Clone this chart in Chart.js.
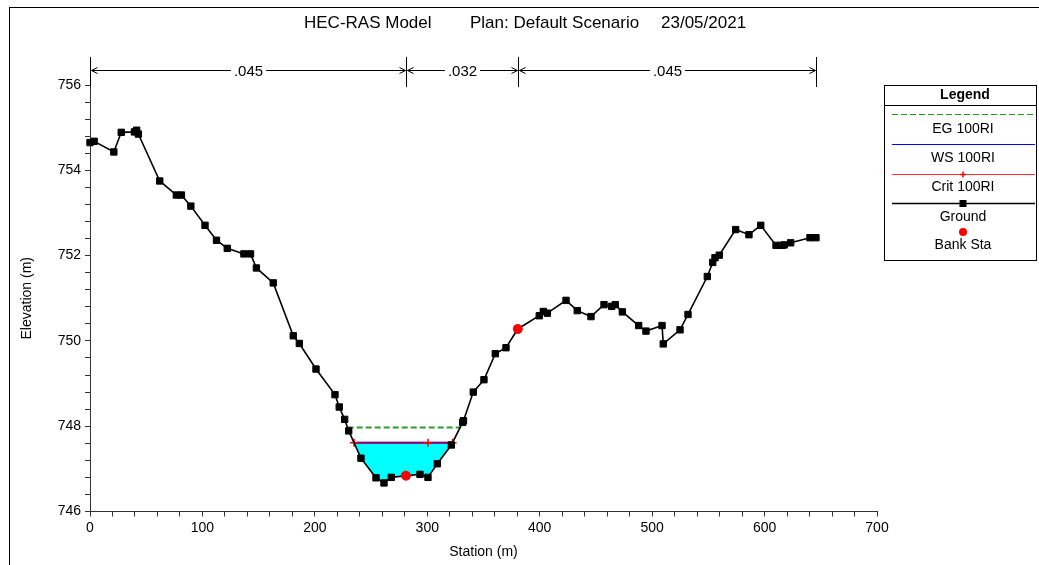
<!DOCTYPE html>
<html>
<head>
<meta charset="utf-8">
<title>HEC-RAS Model</title>
<script src="https://cdn.jsdelivr.net/npm/chart.js@4.4.1/dist/chart.umd.min.js"></script>
<style>
    html, body { margin: 0; padding: 0; background: #fff; }
    canvas { display: block; }
</style>
</head>
<body>
<canvas id="xsChart" width="1039" height="565"></canvas>
<script>
// cross section data (station m, elevation m)
const groundStation = [0, 3.7, 21.2, 27.8, 39.5, 41.5, 43.0, 62.0, 76.8, 81.3, 89.7, 102.3, 112.5, 122.1, 136.9, 142.8,
    148.0, 163.0, 180.8, 186.2, 201.0, 217.9, 221.7, 226.5, 230.1, 241.0, 254.4, 261.5, 268.0, 281.0, 293.5, 300.6,
    308.9, 321.4, 331.5, 332.2, 340.9, 350.4, 360.5, 370.0, 380.5, 399.6, 403.2, 406.8, 423.4, 433.4, 445.6, 457.2,
    464.0, 467.2, 473.5, 488.0, 494.5, 508.8, 509.9, 524.8, 531.9, 549.1, 553.9, 555.9, 559.7, 574.3, 586.1, 596.6,
    610.2, 615.3, 617.5, 623.2, 640.4, 645.7];
const groundElev = [754.65, 754.68, 754.43, 754.89, 754.90, 754.94, 754.85, 753.75, 753.42, 753.42, 753.16, 752.71, 752.36, 752.17, 752.04, 752.04,
    751.71, 751.36, 750.12, 749.94, 749.34, 748.74, 748.45, 748.16, 747.89, 747.25, 746.79, 746.67, 746.80, 746.84, 746.87, 746.80,
    747.12, 747.56, 748.09, 748.13, 748.80, 749.09, 749.70, 749.84, 750.28, 750.59, 750.69, 750.65, 750.95, 750.71, 750.57, 750.85,
    750.81, 750.85, 750.68, 750.36, 750.23, 750.36, 749.93, 750.26, 750.62, 751.51, 751.84, 751.95, 752.01, 752.61, 752.49, 752.71,
    752.24, 752.24, 752.25, 752.30, 752.42, 752.42];

const bankStation = [281.0, 380.5];
const bankElev = [746.84, 750.28];

const wsElev = 747.61;
const wsStation = [234.9, 322.5];
const egElev = 747.97;
const egStation = [229.2, 329.3];
const critElev = 747.61;
const critStation = [234.9, 300.6, 322.5];

const nStation = [0, 281.0, 380.5, 645.7];
const nValue = ['.045', '.032', '.045'];

const xTickLabels = [0, 100, 200, 300, 400, 500, 600, 700];
const yTickLabels = [746, 748, 750, 752, 754, 756];

const titleParts = ['HEC-RAS Model', 'Plan: Default Scenario', '23/05/2021'];
const seriesNames = ['EG 100RI', 'WS 100RI', 'Crit 100RI', 'Ground', 'Bank Sta'];

const FONT = "'Liberation Sans', Arial, sans-serif";

const pts = (xs, ys) => xs.map((x, i) => ({ x, y: Array.isArray(ys) ? ys[i] : ys }));

// frame + title
const framePlugin = {
    id: 'frame',
    afterDraw(chart) {
        const ctx = chart.ctx;
        ctx.save();
        ctx.strokeStyle = '#000';
        ctx.lineWidth = 1;
        ctx.strokeRect(9.5, 7.5, 1100, 600);
        ctx.fillStyle = '#000';
        ctx.font = '17px ' + FONT;
        ctx.textBaseline = 'middle';
        ctx.textAlign = 'left';
        const xs = [304, 470, 661];
        titleParts.forEach((t, i) => ctx.fillText(t, xs[i], 23));
        ctx.restore();
    }
};

// manning's n bar across the top
const manningPlugin = {
    id: 'manning',
    afterDraw(chart) {
        const ctx = chart.ctx;
        const xs = nStation.map(s => Math.round(chart.scales.x.getPixelForValue(s)) + 0.5);
        const y = 70.5;
        ctx.save();
        ctx.strokeStyle = '#000';
        ctx.fillStyle = '#000';
        ctx.lineWidth = 1;
        ctx.font = '15px ' + FONT;
        ctx.textAlign = 'center';
        ctx.textBaseline = 'middle';
        xs.forEach(x => {
            ctx.beginPath();
            ctx.moveTo(x, 57);
            ctx.lineTo(x, 87);
            ctx.stroke();
        });
        for (let i = 0; i < nValue.length; i++) {
            const a = xs[i] + 1, b = xs[i + 1] - 1;
            ctx.beginPath();
            ctx.moveTo(a, y);
            ctx.lineTo(b, y);
            ctx.moveTo(a + 6, y - 3);
            ctx.lineTo(a, y);
            ctx.lineTo(a + 6, y + 3);
            ctx.moveTo(b - 6, y - 3);
            ctx.lineTo(b, y);
            ctx.lineTo(b - 6, y + 3);
            ctx.stroke();
            const mid = (a + b) / 2;
            const w = ctx.measureText(nValue[i]).width;
            ctx.fillStyle = '#fff';
            ctx.fillRect(mid - w / 2 - 3, y - 8, w + 6, 16);
            ctx.fillStyle = '#000';
            ctx.fillText(nValue[i], mid, y + 1);
        }
        ctx.restore();
    }
};

// boxed legend on the right
const legendPlugin = {
    id: 'legendBox',
    afterDraw(chart) {
        const ctx = chart.ctx;
        const left = 884.5, right = 1036.5, top = 85.5, bottom = 260.5;
        const cx = 963, x1 = 892, x2 = 1035;
        const lineY = [114.5, 144.5, 174.5, 203.5, 232];
        const textY = [129, 158, 187, 217, 245];
        ctx.save();
        ctx.fillStyle = '#fff';
        ctx.fillRect(left, top, right - left, bottom - top);
        ctx.strokeStyle = '#000';
        ctx.lineWidth = 1;
        ctx.strokeRect(left, top, right - left, bottom - top);
        ctx.beginPath();
        ctx.moveTo(left, 105.5);
        ctx.lineTo(right, 105.5);
        ctx.stroke();

        ctx.fillStyle = '#000';
        ctx.textAlign = 'center';
        ctx.textBaseline = 'middle';
        ctx.font = 'bold 14px ' + FONT;
        ctx.fillText('Legend', cx + 2, 95.5);

        // EG
        ctx.strokeStyle = '#1f9a1f';
        ctx.setLineDash([6, 3]);
        ctx.beginPath(); ctx.moveTo(x1, lineY[0]); ctx.lineTo(x2, lineY[0]); ctx.stroke();
        ctx.setLineDash([]);
        // WS
        ctx.strokeStyle = '#0000ff';
        ctx.beginPath(); ctx.moveTo(x1, lineY[1]); ctx.lineTo(x2, lineY[1]); ctx.stroke();
        // Crit
        ctx.strokeStyle = '#ff3030';
        ctx.beginPath(); ctx.moveTo(x1, lineY[2]); ctx.lineTo(x2, lineY[2]); ctx.stroke();
        ctx.strokeStyle = '#ff0000';
        ctx.lineWidth = 1.5;
        ctx.beginPath();
        ctx.moveTo(cx - 3, lineY[2]); ctx.lineTo(cx + 3, lineY[2]);
        ctx.moveTo(cx, lineY[2] - 3); ctx.lineTo(cx, lineY[2] + 3);
        ctx.stroke();
        // Ground
        ctx.strokeStyle = '#000';
        ctx.lineWidth = 1.5;
        ctx.beginPath(); ctx.moveTo(x1, lineY[3]); ctx.lineTo(x2, lineY[3]); ctx.stroke();
        ctx.fillStyle = '#000';
        ctx.fillRect(cx - 3.5, lineY[3] - 3.5, 7, 7);
        // Bank Sta
        ctx.fillStyle = '#ff0000';
        ctx.beginPath(); ctx.arc(cx, lineY[4], 4, 0, Math.PI * 2); ctx.fill();

        ctx.fillStyle = '#000';
        ctx.font = '14px ' + FONT;
        seriesNames.forEach((name, i) => ctx.fillText(name, cx, textY[i]));
        ctx.restore();
    }
};

class CrossSectionChart {
    constructor() {
        this.init();
    }

    init() {
        Chart.defaults.font.family = FONT;
        Chart.defaults.color = '#000';
        const ctx = document.getElementById('xsChart').getContext('2d');

        this.chart = new Chart(ctx, {
            type: 'scatter',
            data: {
                datasets: [
                    {
                        label: seriesNames[4],
                        data: pts(bankStation, bankElev),
                        showLine: false,
                        pointStyle: 'circle',
                        pointRadius: 4.5,
                        pointBackgroundColor: '#ff0000',
                        pointBorderColor: '#ff0000',
                        clip: false
                    },
                    {
                        label: seriesNames[3],
                        data: pts(groundStation, groundElev),
                        showLine: true,
                        borderColor: '#000',
                        borderWidth: 1.6,
                        pointStyle: 'rect',
                        pointRadius: 4.5,
                        pointBorderWidth: 1,
                        pointBackgroundColor: '#000',
                        pointBorderColor: '#000',
                        fill: false,
                        clip: false
                    },
                    {
                        label: seriesNames[2],
                        data: pts(critStation, critElev),
                        showLine: true,
                        borderColor: 'rgba(255,0,0,0.6)',
                        borderWidth: 2,
                        pointStyle: 'cross',
                        pointRadius: 4,
                        pointBorderWidth: 1.5,
                        pointBorderColor: '#ff0000',
                        clip: false
                    },
                    {
                        // water surface, filled down to the ground
                        label: seriesNames[1],
                        data: pts(wsStation, wsElev),
                        showLine: true,
                        borderColor: '#0000ff',
                        borderWidth: 2,
                        pointRadius: 0,
                        fill: { target: 1, above: '#00ffff', below: 'rgba(0,0,0,0)' },
                        clip: false
                    },
                    {
                        label: seriesNames[0],
                        data: pts(egStation, egElev),
                        showLine: true,
                        borderColor: '#2f9a2f',
                        borderWidth: 2,
                        borderDash: [6, 3],
                        pointRadius: 0,
                        clip: false
                    }
                ]
            },
            options: {
                responsive: false,
                animation: false,
                events: [],
                layout: { padding: { left: 0, top: 85, right: 162, bottom: 0 } },
                plugins: {
                    legend: { display: false },
                    tooltip: { enabled: false },
                    title: { display: false },
                    filler: { drawTime: 'beforeDatasetsDraw' }
                },
                scales: {
                    x: {
                        type: 'linear',
                        min: 0,
                        max: 700,
                        afterFit: s => { s.height = 53.5; },
                        border: { display: true, color: '#333', width: 1 },
                        grid: { drawOnChartArea: false, drawTicks: true, tickLength: 5, color: '#333' },
                        ticks: {
                            stepSize: 20,
                            autoSkip: false,
                            maxRotation: 0,
                            padding: 3,
                            font: { size: 14 },
                            callback: v => xTickLabels.includes(Math.round(v)) && Math.abs(v - Math.round(v)) < 1e-6 ? String(Math.round(v)) : ''
                        },
                        title: { display: true, text: 'Station (m)', font: { size: 14 }, padding: { top: 0, bottom: 4 } }
                    },
                    y: {
                        type: 'linear',
                        min: 746,
                        max: 756,
                        afterFit: s => { s.width = 90; },
                        border: { display: true, color: '#333', width: 1 },
                        grid: { drawOnChartArea: false, drawTicks: true, tickLength: 5, color: '#333' },
                        ticks: {
                            stepSize: 0.4,
                            autoSkip: false,
                            padding: 4,
                            font: { size: 14 },
                            callback: v => yTickLabels.includes(Math.round(v)) && Math.abs(v - Math.round(v)) < 1e-6 ? String(Math.round(v)) : ''
                        },
                        title: { display: true, text: 'Elevation (m)', font: { size: 14 }, padding: { top: 19, bottom: 0 } }
                    }
                }
            },
            plugins: [framePlugin, manningPlugin, legendPlugin]
        });
    }
}

document.addEventListener('DOMContentLoaded', () => new CrossSectionChart());
</script>
</body>
</html>
